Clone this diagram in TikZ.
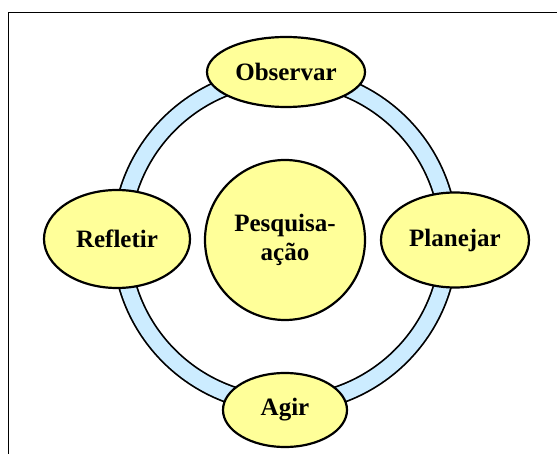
\documentclass[tikz,border=0pt]{standalone}
\usepackage{fontspec}
\setmainfont{Liberation Serif}
\usetikzlibrary{shapes.geometric}

\definecolor{ringblue}{RGB}{204,236,255}
\definecolor{stageyellow}{RGB}{255,255,153}

\begin{document}
\begin{tikzpicture}[x=1pt,y=-1pt]
\tikzstyle{every node}=[inner sep=0pt, font=\fontsize{25}{29}\selectfont\bfseries]
\tikzstyle{stage}=[ellipse, draw, line width=2.2pt, fill=stageyellow]
\useasboundingbox (0,0) rectangle (557,454);
\draw[line width=1.8pt] (8.5,454) -- (8.5,12.5) -- (557,12.5);
\coordinate (c) at (285,240);
\draw[line width=19pt] (c) circle (164);
\draw[line width=15.5pt, ringblue] (c) circle (164);
\draw (285,240) node (pa) [circle, draw, line width=2.2pt, fill=stageyellow, minimum size=160pt, align=center] {Pesquisa-\\ação};
\draw (286,72) node (obs) [stage, minimum width=158pt, minimum height=70pt] {Observar};
\draw (455,240) node (plan) [stage, minimum width=148pt, minimum height=95pt] {Planejar};
\draw (285,410) node (agir) [stage, minimum width=124pt, minimum height=74pt] {Agir};
\draw (117,239) node (ref) [stage, minimum width=146pt, minimum height=98pt] {Refletir};
\end{tikzpicture}
\end{document}
